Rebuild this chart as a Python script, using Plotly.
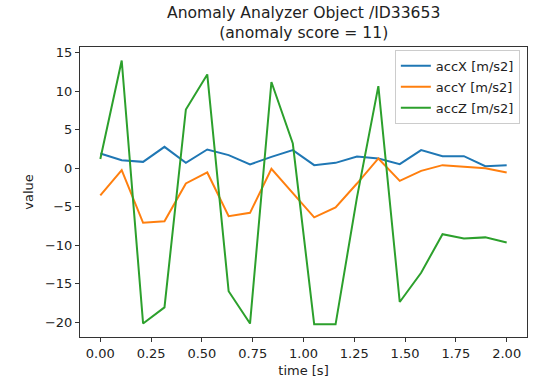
import numpy as np
import plotly.graph_objects as go

# time axis: 20 samples over 2 seconds
time_s = np.linspace(0, 2, 20)

# values
acc_x = [1.9, 1.04, 0.82, 2.77, 0.69, 2.43, 1.69, 0.48, 1.47, 2.34,
         0.39, 0.69, 1.52, 1.26, 0.52, 2.34, 1.56, 1.56, 0.26, 0.39]
acc_y = [-3.55, -0.26, -7.1, -6.9, -1.99, -0.56, -6.24, -5.81, -0.08, -3.2,
         -6.4, -5.1, -2.0, 1.26, -1.65, -0.35, 0.39, 0.17, 0.0, -0.56]
acc_z = [1.2, 14.0, -20.2, -18.1, 7.63, 12.18, -16.0, -20.2, 11.2, 3.2,
         -20.3, -20.3, -3.8, 10.66, -17.4, -13.6, -8.58, -9.15, -9.0, -9.66]

series_names = ["accX [m/s2]", "accY [m/s2]", "accZ [m/s2]"]
series_colors = ["#1f77b4", "#ff7f0e", "#2ca02c"]

fig = go.Figure()
for name, vals, col in zip(series_names, [acc_x, acc_y, acc_z], series_colors):
    fig.add_trace(go.Scatter(x=time_s, y=vals, mode="lines", name=name,
                             line=dict(color=col, width=2), legendgroup=name))

axis_style = dict(showline=True, mirror=True, linecolor="#333333", linewidth=1,
                  ticks="outside", ticklen=4, tickcolor="#333333",
                  showgrid=False, zeroline=False, automargin=False,
                  tickfont=dict(size=13, color="#222222"))

fig.update_layout(
    width=538, height=388,
    margin=dict(l=80, r=11, t=47, b=51),
    paper_bgcolor="white", plot_bgcolor="white",
    font=dict(family="DejaVu Sans", size=13, color="#222222"),
    xaxis=dict(range=[-0.1, 2.1], dtick=0.25, tick0=0, tickformat=".2f",
               title=dict(text="time [s]", standoff=6, font=dict(size=13)),
               **axis_style),
    yaxis=dict(range=[-21.95, 15.75], dtick=5, tick0=0,
               title=dict(text="value", standoff=8, font=dict(size=13)),
               **axis_style),
    legend=dict(x=0.984, y=0.99, xanchor="right", yanchor="top",
                bgcolor="rgba(255,255,255,0.8)", bordercolor="#cccccc",
                borderwidth=1, itemwidth=30, tracegroupgap=1,
                font=dict(size=13)),
)

# two-line title placed just above the plot area
fig.add_annotation(text="Anomaly Analyzer Object /ID33653<br>(anomaly score = 11)",
                   xref="paper", yref="paper", x=0.5, y=1, yanchor="bottom",
                   yshift=3, showarrow=False,
                   font=dict(size=15.6, color="#222222"))

# drop the default page margin so the figure sits at the window's corner
fig.write_html("out.html", config={"displayModeBar": False},
               post_script="document.body.style.margin='0';")
